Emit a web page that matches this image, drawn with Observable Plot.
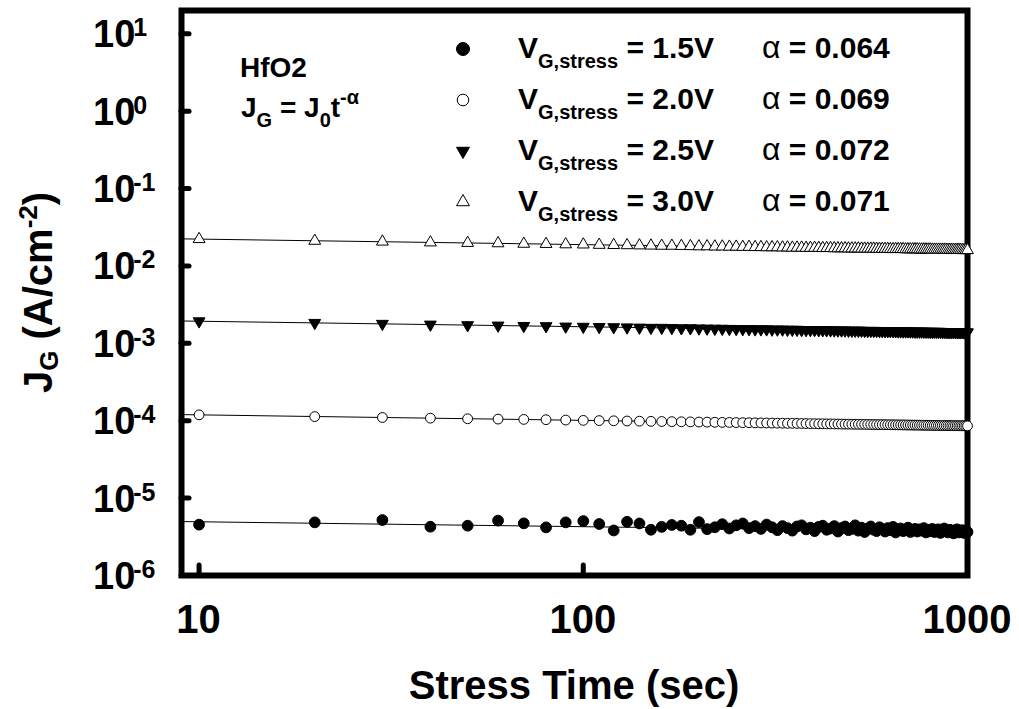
<!DOCTYPE html>
<html><head><meta charset="utf-8">
<script src="https://cdn.jsdelivr.net/npm/d3@7"></script>
<script src="https://cdn.jsdelivr.net/npm/@observablehq/plot@0.6"></script>
<style>
body{margin:0;background:#fff;}
#chart svg{display:block;}
</style></head><body><div id="chart"></div>
<script>
// ---------- data ----------
const times = [10,20,30,40,50,60,70,80,90,100,110,120,130,140,150,160,170,180,190,200,
210,220,230,240,250,260,270,280,290,300,310,320,330,340,350,360,370,380,390,400,
410,420,430,440,450,460,470,480,490,500,510,520,530,540,550,560,570,580,590,600,
610,620,630,640,650,660,670,680,690,700,710,720,730,740,750,760,770,780,790,800,
810,820,830,840,850,860,870,880,890,900,910,920,930,940,950,960,970,980,990,1000];

const j15 = [4.54e-6,4.86e-6,5.21e-6,4.27e-6,4.40e-6,5.12e-6,4.72e-6,4.19e-6,4.86e-6,5.05e-6,
4.63e-6,3.82e-6,4.94e-6,4.70e-6,3.90e-6,4.25e-6,4.50e-6,4.40e-6,3.90e-6,4.90e-6,
3.98e-6,4.20e-6,4.60e-6,4.05e-6,4.45e-6,4.70e-6,4.10e-6,4.35e-6,4.00e-6,4.55e-6,
4.20e-6,3.85e-6,4.35e-6,4.10e-6,3.80e-6,4.30e-6,4.45e-6,3.95e-6,4.15e-6,3.75e-6,
4.25e-6,4.40e-6,3.90e-6,4.05e-6,4.35e-6,3.70e-6,4.10e-6,4.30e-6,3.85e-6,4.00e-6,
4.45e-6,3.80e-6,4.15e-6,3.65e-6,4.05e-6,4.30e-6,3.90e-6,3.75e-6,4.20e-6,3.95e-6,
3.70e-6,4.10e-6,3.85e-6,4.25e-6,3.60e-6,3.95e-6,4.05e-6,3.75e-6,3.90e-6,4.15e-6,
3.65e-6,3.85e-6,4.00e-6,3.70e-6,3.95e-6,3.80e-6,4.10e-6,3.60e-6,3.90e-6,3.75e-6,
4.00e-6,3.65e-6,3.85e-6,3.95e-6,3.55e-6,3.80e-6,4.05e-6,3.70e-6,3.60e-6,3.90e-6,
3.75e-6,3.50e-6,3.85e-6,3.95e-6,3.60e-6,3.70e-6,3.85e-6,3.55e-6,3.80e-6,3.65e-6];

const j20 = [1.19e-4,1.13e-4,1.10e-4,1.08e-4,1.06e-4,1.05e-4,1.04e-4,1.03e-4,1.02e-4,1.01e-4,
1.004e-4,9.98e-5,9.92e-5,9.87e-5,9.82e-5,9.77e-5,9.73e-5,9.69e-5,9.66e-5,9.62e-5,
9.59e-5,9.55e-5,9.52e-5,9.50e-5,9.47e-5,9.44e-5,9.42e-5,9.39e-5,9.37e-5,9.35e-5,
9.33e-5,9.30e-5,9.28e-5,9.26e-5,9.25e-5,9.23e-5,9.21e-5,9.19e-5,9.17e-5,9.16e-5,
9.14e-5,9.13e-5,9.11e-5,9.10e-5,9.08e-5,9.07e-5,9.05e-5,9.04e-5,9.03e-5,9.01e-5,
9.00e-5,8.99e-5,8.98e-5,8.97e-5,8.95e-5,8.94e-5,8.93e-5,8.92e-5,8.91e-5,8.90e-5,
8.89e-5,8.88e-5,8.87e-5,8.86e-5,8.85e-5,8.84e-5,8.83e-5,8.82e-5,8.81e-5,8.80e-5,
8.79e-5,8.78e-5,8.78e-5,8.77e-5,8.76e-5,8.75e-5,8.74e-5,8.73e-5,8.73e-5,8.72e-5,
8.71e-5,8.70e-5,8.70e-5,8.69e-5,8.68e-5,8.67e-5,8.67e-5,8.66e-5,8.65e-5,8.65e-5,
8.64e-5,8.63e-5,8.62e-5,8.62e-5,8.61e-5,8.61e-5,8.60e-5,8.59e-5,8.59e-5,8.58e-5];

const j25 = [1.93e-3,1.84e-3,1.79e-3,1.75e-3,1.72e-3,1.70e-3,1.68e-3,1.67e-3,1.65e-3,1.64e-3,
1.63e-3,1.62e-3,1.61e-3,1.60e-3,1.59e-3,1.59e-3,1.58e-3,1.57e-3,1.57e-3,1.56e-3,
1.555e-3,1.55e-3,1.545e-3,1.54e-3,1.535e-3,1.53e-3,1.53e-3,1.52e-3,1.52e-3,1.52e-3,
1.51e-3,1.51e-3,1.51e-3,1.50e-3,1.50e-3,1.50e-3,1.49e-3,1.49e-3,1.49e-3,1.49e-3,
1.48e-3,1.48e-3,1.48e-3,1.475e-3,1.47e-3,1.47e-3,1.47e-3,1.47e-3,1.46e-3,1.46e-3,
1.46e-3,1.46e-3,1.46e-3,1.45e-3,1.45e-3,1.45e-3,1.45e-3,1.45e-3,1.445e-3,1.44e-3,
1.44e-3,1.44e-3,1.44e-3,1.44e-3,1.435e-3,1.43e-3,1.43e-3,1.43e-3,1.43e-3,1.43e-3,
1.425e-3,1.425e-3,1.42e-3,1.42e-3,1.42e-3,1.42e-3,1.42e-3,1.415e-3,1.415e-3,1.41e-3,
1.41e-3,1.41e-3,1.41e-3,1.41e-3,1.41e-3,1.405e-3,1.405e-3,1.405e-3,1.40e-3,1.40e-3,
1.40e-3,1.40e-3,1.40e-3,1.40e-3,1.395e-3,1.395e-3,1.395e-3,1.39e-3,1.39e-3,1.39e-3];

const j30 = [0.0222,0.0211,0.0206,0.0201,0.0198,0.0196,0.0193,0.0192,0.0190,0.0189,
0.0187,0.0186,0.0185,0.0184,0.0183,0.0182,0.0182,0.0181,0.0180,0.0179,
0.0179,0.0178,0.0178,0.0177,0.0177,0.0176,0.0176,0.0175,0.0175,0.0174,
0.0174,0.0174,0.0173,0.0173,0.0172,0.0172,0.0172,0.0171,0.0171,0.0171,
0.0171,0.0170,0.0170,0.0170,0.0169,0.0169,0.0169,0.0169,0.0168,0.0168,
0.0168,0.0168,0.0167,0.0167,0.0167,0.0167,0.0167,0.0166,0.0166,0.0166,
0.0166,0.0166,0.0165,0.0165,0.0165,0.0165,0.0165,0.0165,0.0164,0.0164,
0.0164,0.0164,0.0164,0.0164,0.0163,0.0163,0.0163,0.0163,0.0163,0.0163,
0.0162,0.0162,0.0162,0.0162,0.0162,0.0162,0.0162,0.0162,0.0161,0.0161,
0.0161,0.0161,0.0161,0.0161,0.0161,0.0161,0.0160,0.0160,0.0160,0.0160];

// power-law fit lines (end points)
const fitTimes = [9, 1000];
const fit15 = [4.98e-6, 3.69e-6];
const fit20 = [1.20e-4, 8.58e-5];
const fit25 = [1.945e-3, 1.39e-3];
const fit30 = [0.0224, 0.0160];

const stressV = ["1.5V", "2.0V", "2.5V", "3.0V"];
const alphas = ["0.064", "0.069", "0.072", "0.071"];

const xTickValues = [10, 100, 1000];
const xTickLabels = ["10", "100", "1000"];
const yTickValues = [1e1, 1e0, 1e-1, 1e-2, 1e-3, 1e-4, 1e-5, 1e-6];
const yTickExponents = ["1", "0", "-1", "-2", "-3", "-4", "-5", "-6"];

// ---------- chart ----------
const FONT = "Arial, 'Liberation Sans', sans-serif";
const triangleDown = {
  draw(ctx, size) {
    const y = Math.sqrt(size / (3 * Math.sqrt(3)));
    ctx.moveTo(0, 2 * y);
    ctx.lineTo(-Math.sqrt(3) * y, -y);
    ctx.lineTo(Math.sqrt(3) * y, -y);
    ctx.closePath();
  }
};
const styles = [
  {symbol: "circle", fill: "black", r: 5.4, lr: 6.5},
  {symbol: "circle", fill: "white", r: 4.9, lr: 5.8},
  {symbol: triangleDown, fill: "black", r: 4.4, lr: 4.8},
  {symbol: "triangle", fill: "white", r: 4.4, lr: 4.8}
];
const seriesVals = [j15, j20, j25, j30];
const fits = [fit15, fit20, fit25, fit30];

const rows = seriesVals.map(vals => times.map((t, i) => ({t, j: vals[i]})));
const fitRows = fits.map(f => fitTimes.map((t, i) => ({t, j: f[i]})));

const M = {left: 181, right: 52, top: 10, bottom: 134};

const plot = Plot.plot({
  width: 1019, height: 709,
  marginLeft: M.left, marginRight: M.right, marginTop: M.top, marginBottom: M.bottom,
  style: {fontFamily: FONT, background: "white"},
  x: {type: "log", domain: [9, 1000], axis: null},
  y: {type: "log", domain: [1e-6, 20], axis: null},
  marks: [
    Plot.frame({stroke: "black", strokeWidth: 6}),
    Plot.axisY({ticks: yTickValues, tickSize: -8, tickFormat: () => "", label: null, strokeWidth: 5, strokeLinecap: "round"}),
    Plot.axisX({ticks: xTickValues, tickSize: -10, tickFormat: () => "", label: null, strokeWidth: 5, strokeLinecap: "round"}),
    ...fitRows.map(d => Plot.line(d, {x: "t", y: "j", stroke: "black", strokeWidth: 1})),
    ...rows.map((d, k) => Plot.dot(d, {x: "t", y: "j", symbol: styles[k].symbol, r: styles[k].r,
      fill: styles[k].fill, stroke: "black", strokeWidth: 1}))
  ]
});
document.getElementById("chart").appendChild(plot);

const svg = d3.select(plot);
const sx = plot.scale("x"), sy = plot.scale("y");
const g = svg.append("g").attr("font-family", FONT).attr("font-weight", "bold")
  .attr("fill", "black").attr("text-anchor", "start");

// x tick labels
xTickValues.forEach((v, i) => {
  g.append("text").attr("x", sx.apply(v)).attr("y", 633).attr("text-anchor", "middle")
    .attr("font-size", 40).text(xTickLabels[i]);
});
// y tick labels with superscripts
yTickValues.forEach((v, i) => {
  const t = g.append("text").attr("x", M.left - 88).attr("y", sy.apply(v) + 14).attr("font-size", 38);
  t.append("tspan").text("10");
  t.append("tspan").attr("font-size", 25).attr("dy", -11).attr("dx", -2).text(yTickExponents[i]);
});

// axis titles
g.append("text").attr("x", (M.left + 1019 - M.right) / 2).attr("y", 699).attr("text-anchor", "middle")
  .attr("font-size", 40).text("Stress Time (sec)");
const yt = g.append("text").attr("transform", `translate(52,${(M.top + 709 - M.bottom) / 2}) rotate(-90)`)
  .attr("text-anchor", "middle").attr("font-size", 40);
yt.append("tspan").text("J");
yt.append("tspan").attr("font-size", 26).attr("dy", 6).text("G");
yt.append("tspan").attr("dy", -6).text(" (A/cm");
yt.append("tspan").attr("font-size", 26).attr("dy", -15).text("-2");
yt.append("tspan").attr("dy", 15).text(")");

// annotation
g.append("text").attr("x", M.left + 59).attr("y", 77).attr("font-size", 28).text("HfO2");
const eq = g.append("text").attr("x", M.left + 60).attr("y", 117).attr("font-size", 28);
eq.append("tspan").text("J");
eq.append("tspan").attr("font-size", 20).attr("dy", 10).text("G");
eq.append("tspan").attr("dy", -10).text(" = J");
eq.append("tspan").attr("font-size", 20).attr("dy", 10).text("0");
eq.append("tspan").attr("dy", -10).text("t");
eq.append("tspan").attr("font-size", 20).attr("dy", -13).text("-α");

// legend
stressV.forEach((v, i) => {
  const base = 58 + i * 51;
  const cy = base - 9;
  const sym = styles[i].symbol;
  const path = d3.symbol(sym === "circle" ? d3.symbolCircle : sym === "triangle" ? d3.symbolTriangle : sym,
    Math.PI * styles[i].lr * styles[i].lr)();
  svg.append("path").attr("d", path).attr("transform", `translate(${M.left + 282},${cy})`)
    .attr("fill", styles[i].fill).attr("stroke", "black").attr("stroke-width", 1);
  const t = g.append("text").attr("x", M.left + 337).attr("y", base).attr("font-size", 30);
  t.append("tspan").text("V");
  t.append("tspan").attr("font-size", 20).attr("dy", 10).text("G,stress");
  t.append("tspan").attr("dy", -10).text(" = " + v);
  const a = g.append("text").attr("x", M.left + 581).attr("y", base).attr("font-size", 30);
  a.append("tspan").attr("font-weight", "normal").attr("font-size", 32).text("α");
  a.append("tspan").text(" = " + alphas[i]);
});
</script></body></html>
